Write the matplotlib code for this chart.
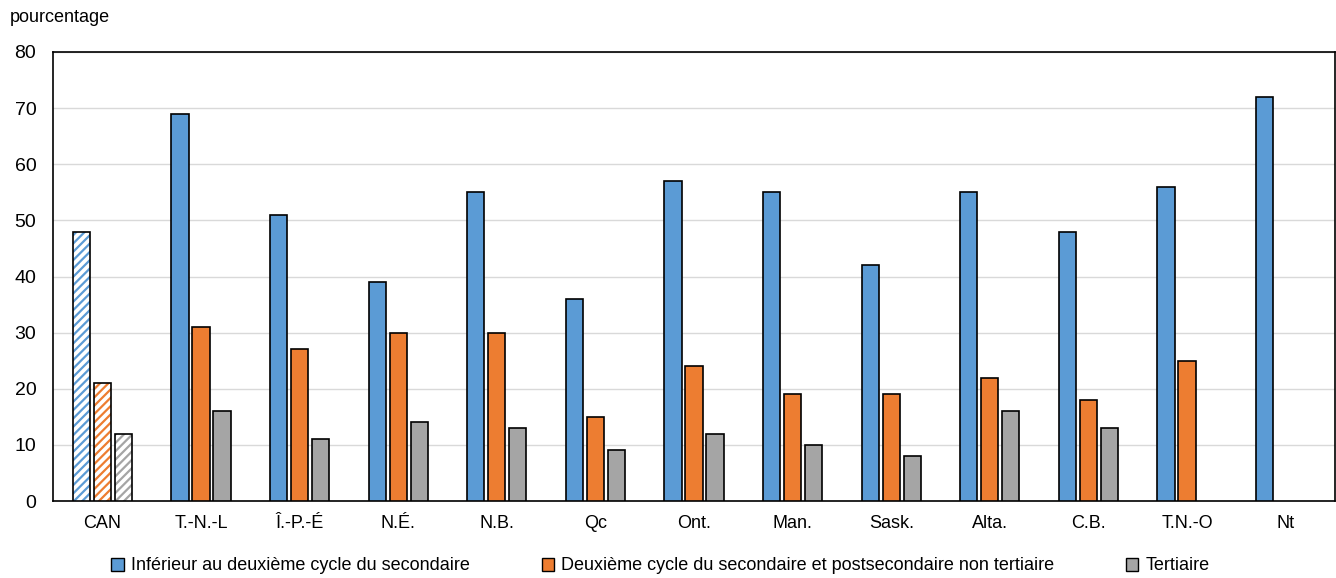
import matplotlib
matplotlib.use("Agg")
import matplotlib.pyplot as plt
import numpy as np
from matplotlib.patches import Patch

plt.rcParams['font.family'] = ['Liberation Sans', 'DejaVu Sans']
plt.rcParams['hatch.linewidth'] = 1.6

categories = ["CAN", "T.-N.-L", "Î.-P.-É", "N.É.", "N.B.", "Qc", "Ont.", "Man.", "Sask.", "Alta.", "C.B.", "T.N.-O", "Nt"]
inferieur = [48, 69, 51, 39, 55, 36, 57, 55, 42, 55, 48, 56, 72]
deuxieme = [21, 31, 27, 30, 30, 15, 24, 19, 19, 22, 18, 25, np.nan]
tertiaire = [12, 16, 11, 14, 13, 9, 12, 10, 8, 16, 13, np.nan, np.nan]
series_names = ["Inférieur au deuxième cycle du secondaire",
                "Deuxième cycle du secondaire et postsecondaire non tertiaire",
                "Tertiaire"]
colors = ["#5B9BD5", "#ED7D31", "#A5A5A5"]

fig = plt.figure(figsize=(13.36, 5.78), dpi=100)
ax = fig.add_axes([53/1336, 1-501/578, (1335-53)/1336, (501-52)/578])

x = np.arange(len(categories))
w = 0.175
step = 0.213
for i, (vals, c) in enumerate(zip([inferieur, deuxieme, tertiaire], colors)):
    pos = x + (i-1)*step
    v = np.array(vals, dtype=float)
    ax.bar(pos[0], v[0], width=w, facecolor="white", edgecolor=c, hatch="////", linewidth=0, zorder=3)
    ax.bar(pos[0], v[0], width=w, fill=False, edgecolor="black", linewidth=1.2, zorder=4)
    ax.bar(pos[1:], v[1:], width=w, color=c, edgecolor="black", linewidth=1.2, zorder=3)

ax.set_ylim(0, 80)
ax.set_xlim(-0.5, len(categories)-0.5)
ax.set_yticks(range(0, 81, 10))
ax.set_xticks(x)
ax.set_xticklabels(categories)
ax.tick_params(axis='both', length=0, labelsize=14, colors="black")
ax.tick_params(axis='x', labelsize=13, pad=10)
ax.tick_params(axis='y', pad=12)
ax.grid(axis='y', color="#D9D9D9", linewidth=1, zorder=0)
ax.set_axisbelow(True)
for s in ax.spines.values():
    s.set_color("black")
    s.set_linewidth(1.2)

fig.text(10/1336, 1-18/578, "pourcentage", fontsize=13, va="center", ha="left")

handles = [Patch(facecolor=c, edgecolor="black", linewidth=1) for c in colors]
fig.legend(handles, series_names, loc="center", bbox_to_anchor=(0.4945, 1-566/578), ncol=3,
           frameon=False, fontsize=13, handlelength=0.7, handleheight=0.7, handletextpad=0.4,
           columnspacing=3.95)

fig.savefig("out.png", dpi=100)
